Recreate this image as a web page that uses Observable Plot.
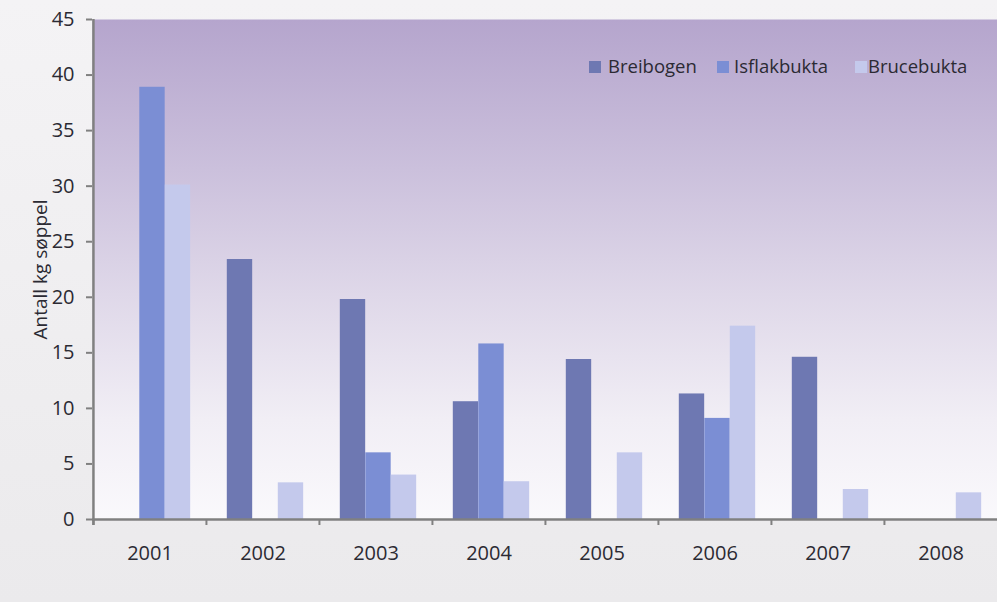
<!DOCTYPE html>
<html>
<head>
<meta charset="utf-8">
<script src="https://cdn.jsdelivr.net/npm/d3@7"></script>
<script src="https://cdn.jsdelivr.net/npm/@observablehq/plot@0.6"></script>
<style>
html, body { margin: 0; padding: 0; background: #eeedf0; }
#wrap { position: relative; width: 997px; height: 602px; overflow: hidden; font-family: "Open Sans", Lato, sans-serif; background: linear-gradient(#f4f3f5, #ebeaec); }
.sw { position: absolute; top: 61px; width: 12px; height: 12px; }
.lt { position: absolute; top: 54px; font-size: 18.5px; line-height: 24px; color: #2b2a33; white-space: nowrap; }
</style>
</head>
<body>
<svg width="0" height="0" style="position:absolute">
  <defs>
    <linearGradient id="bg" x1="0" y1="0" x2="0" y2="1">
      <stop offset="0" stop-color="#b5a5cd"/>
      <stop offset="0.3" stop-color="#cbc0dc"/>
      <stop offset="0.55" stop-color="#dfd8e9"/>
      <stop offset="0.8" stop-color="#f1eef5"/>
      <stop offset="1" stop-color="#faf9fc"/>
    </linearGradient>
  </defs>
</svg>
<div id="wrap"></div>
<script>
// ---- data ----
const years = ["2001", "2002", "2003", "2004", "2005", "2006", "2007", "2008"];
const breibogen   = [null, 23.4, 19.8, 10.6, 14.4, 11.3, 14.6, null];
const isflakbukta = [38.9, null,  6.0, 15.8, null,  9.1, null, null];
const brucebukta  = [30.1,  3.3,  4.0,  3.4,  6.0, 17.4,  2.7,  2.4];
const seriesNames = ["Breibogen", "Isflakbukta", "Brucebukta"];
const seriesValues = [breibogen, isflakbukta, brucebukta];
const colors = ["#6e78b2", "#7b8ed4", "#c4c9ec"];
const yTicks = [0, 5, 10, 15, 20, 25, 30, 35, 40, 45];
const yTitle = "Antall kg søppel";

// ---- layout ----
const W = 997, H = 602, mL = 92, mR = 0, mT = 19, mB = 83;
const bw = (W - mL - mR) / years.length;
const barW = 25.5, barStart = 20.8;
const axisGray = "#808080";
const ink = "#2b2a33";

const barMarks = seriesValues.map((vals, k) => {
  const rows = years.map((y, i) => ({year: y, value: vals[i]})).filter(d => d.value != null);
  const left = barStart + k * barW;
  return Plot.barY(rows, {
    x: "year", y: "value", fill: colors[k],
    insetLeft: left, insetRight: bw - left - barW
  });
});

const chart = Plot.plot({
  width: W, height: H,
  marginLeft: mL, marginRight: mR, marginTop: mT, marginBottom: mB,
  style: {background: "transparent", color: ink, fontFamily: "'Open Sans', Lato, sans-serif"},
  x: {type: "band", domain: years, padding: 0, label: null, axis: null},
  y: {domain: [0, 45], label: null, axis: null},
  marks: [
    Plot.frame({fill: "url(#bg)", stroke: "none"}),
    ...barMarks,
    Plot.ruleY([0], {stroke: axisGray, strokeWidth: 2.5}),
    Plot.ruleX([years[0]], {dx: -bw / 2, stroke: axisGray, strokeWidth: 2.5, insetBottom: -6}),
    Plot.axisY({ticks: yTicks, tickSize: 6, tickPadding: 12, fontSize: 20, stroke: axisGray, strokeWidth: 2, fill: ink, label: null}),
    Plot.axisX({tickSize: 6, dx: -bw / 2, tickFormat: () => "", stroke: axisGray, strokeWidth: 2, label: null}),
    Plot.axisX({tickSize: 0, tickPadding: 26, fontSize: 20, fill: ink, label: null}),
    Plot.text([yTitle], {frameAnchor: "left", textAnchor: "middle", rotate: -90, dx: -52, fontSize: 19, fill: ink})
  ]
});

const wrap = document.getElementById("wrap");
wrap.appendChild(chart);

// legend overlay (inside plot, top right)
const legSw = [589, 717, 855];
const legTx = [608, 734, 868];
seriesNames.forEach((name, k) => {
  const s = document.createElement("div");
  s.className = "sw"; s.style.left = legSw[k] + "px"; s.style.background = colors[k];
  wrap.appendChild(s);
  const t = document.createElement("div");
  t.className = "lt"; t.style.left = legTx[k] + "px"; t.textContent = name;
  wrap.appendChild(t);
});
</script>
</body>
</html>
